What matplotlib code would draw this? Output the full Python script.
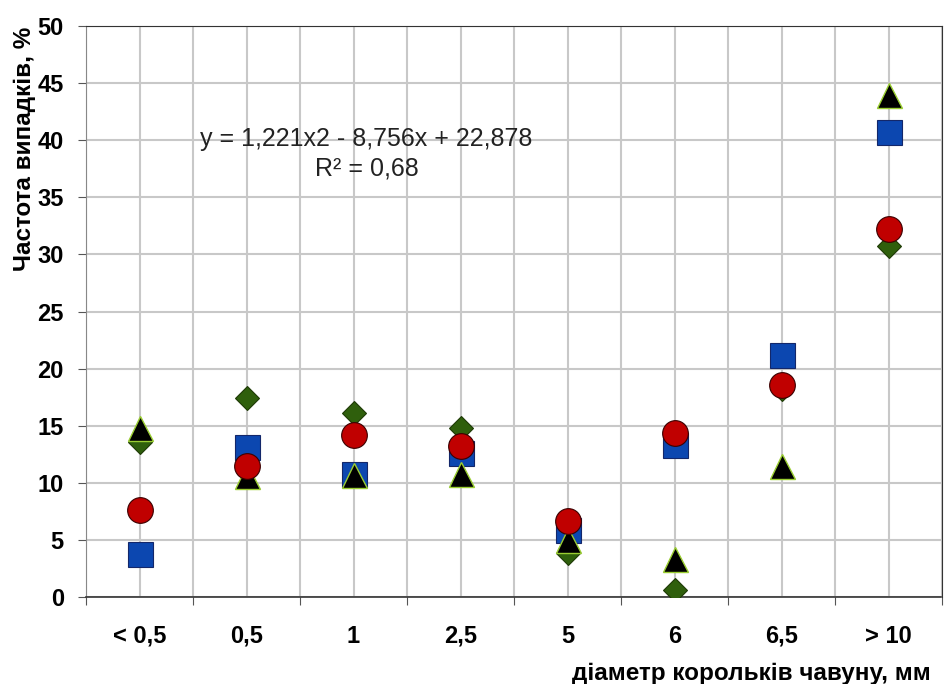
import numpy as np
import matplotlib
matplotlib.use('Agg')
import matplotlib.pyplot as plt
from matplotlib.ticker import MultipleLocator, FixedLocator, NullFormatter

plt.rcParams['font.family'] = ['Liberation Sans', 'DejaVu Sans']

# data
categories = ['< 0,5', '0,5', '1', '2,5', '5', '6', '6,5', '> 10']
green_diamond = [13.6, 17.4, 16.1, 14.8, 3.9, 0.6, 18.2, 30.7]
blue_square = [3.8, 13.1, 10.8, 12.6, 5.9, 13.3, 21.2, 40.7]
black_triangle = [14.8, 10.6, 10.7, 10.8, 5.0, 3.3, 11.5, 44.0]
red_circle = [7.6, 11.5, 14.2, 13.2, 6.7, 14.4, 18.6, 32.2]
equation = 'y = 1,221x2 - 8,756x + 22,878\nR² = 0,68'

x = np.arange(len(categories))

fig = plt.figure(figsize=(9.45, 6.84), dpi=100)
ax = fig.add_axes([0.091, 0.127, 0.906, 0.835])

# series
ax.plot(x, green_diamond, 'D', ms=12, mfc='#2f5f0c', mec='#1e3a06', mew=0.8, ls='none', zorder=3)
ax.plot(x, blue_square, 's', ms=18, mfc='#0c47b0', mec='#13276a', mew=0.8, ls='none', zorder=4)
ax.plot(x, black_triangle, '^', ms=18, mfc='black', mec='#9acd32', mew=1.0, ls='none', zorder=5)
ax.plot(x, red_circle, 'o', ms=18.5, mfc='#c00000', mec='#3a0000', mew=0.8, ls='none', zorder=6)

# trend equation
ax.text(2.12, 38.8, equation, ha='center', va='center', fontsize=18,
        linespacing=1.3, color='#222222', zorder=2)

ax.set_xlim(-0.5, len(categories) - 0.5)
ax.set_ylim(0, 50)

# x: ticks on category borders, labels on centres
ax.xaxis.set_major_locator(MultipleLocator(1, offset=0.5))
ax.xaxis.set_major_formatter(NullFormatter())
ax.xaxis.set_minor_locator(FixedLocator(x))
ax.set_xticks(x, categories, minor=True)
ax.tick_params(axis='x', which='minor', length=0, pad=20, labelsize=17)
ax.tick_params(axis='x', which='major', length=6, width=0.8, color='#555555')
for lab in ax.get_xticklabels(minor=True):
    lab.set_fontweight('bold')

ax.yaxis.set_major_locator(MultipleLocator(5))
ax.tick_params(axis='y', length=6, width=0.8, color='#555555', pad=10, labelsize=17)
for lab in ax.get_yticklabels():
    lab.set_fontweight('bold')

ax.grid(True, which='both', axis='x', color='#c8c8c8', lw=1.5, zorder=0)
ax.grid(True, which='major', axis='y', color='#c8c8c8', lw=1.5, zorder=0)
ax.set_axisbelow(True)

ax.spines['left'].set_color('#888888')
ax.spines['top'].set_color('#333333')
ax.spines['right'].set_color('#333333')
ax.spines['bottom'].set_color('#333333')
ax.spines['bottom'].set_linestyle((0, (1, 1)))
ax.spines['bottom'].set_linewidth(1.2)

ax.set_ylabel('Частота випадків, %', fontsize=17.5, fontweight='bold')
ax.yaxis.set_label_coords(-0.058, 0.785)
ax.set_xlabel('діаметр корольків чавуну, мм', fontsize=17.5, fontweight='bold', loc='right')
ax.xaxis.set_label_coords(0.987, -0.113)

fig.savefig('out.png', dpi=100)
